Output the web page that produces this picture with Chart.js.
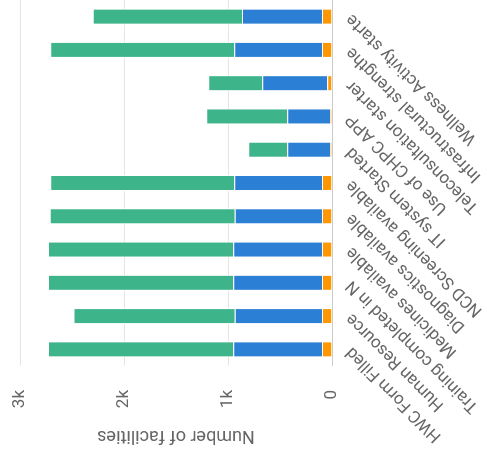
<!DOCTYPE html>
<html>
<head>
<meta charset="utf-8">
<script src="https://cdn.jsdelivr.net/npm/chart.js@4.4.0/dist/chart.umd.min.js"></script>
<style>
  html, body { margin: 0; padding: 0; background: #fff; }
  #view { position: relative; width: 487px; height: 452px; overflow: hidden; }
  /* the chart is drawn upright, then turned a quarter to the left */
  #turn { position: absolute; left: 0; top: 0; width: 452px; height: 487px;
          transform-origin: 0 0; transform: translate(0, 452px) rotate(-90deg); }
</style>
</head>
<body>
<div id="view">
  <div id="turn"><canvas id="facilitiesChart" width="452" height="487"></canvas></div>
</div>
<script>
const categories = [
  "HWC Form Filled",
  "Human Resource",
  "Training completed in N",
  "Medicines available",
  "Diagnostics available",
  "NCD Screening available",
  "IT system Started",
  "Use of CHPC APP",
  "Teleconsultation starter",
  "Infrastructural strengthe",
  "Wellness Activity starte",
];
const orangeValues = [95, 95, 95, 95, 95, 95, 20, 20, 45, 95, 95];
const blueValues = [855, 840, 855, 855, 840, 845, 410, 410, 625, 845, 770];
const greenValues = [1780, 1550, 1780, 1780, 1780, 1770, 375, 780, 520, 1770, 1435];
const yTicks = [0, 1000, 2000, 3000];

const textColor = "#666";
const fontFamily = "Roboto, 'Liberation Sans', sans-serif";

// stacked column chart, one dataset per colour
function facilitiesDraw() {
  const ctx = document.querySelector("#facilitiesChart");
  const barStyle = { borderColor: "#fff", borderWidth: 1, barPercentage: 0.6, categoryPercentage: 0.8 };

  new Chart(ctx, {
    type: "bar",
    data: {
      labels: categories,
      datasets: [
        { label: "Pending", data: orangeValues, backgroundColor: "#ff9800", ...barStyle },
        { label: "In progress", data: blueValues, backgroundColor: "#2b7fd4", ...barStyle },
        { label: "Completed", data: greenValues, backgroundColor: "#3db489", ...barStyle },
      ],
    },
    options: {
      responsive: false,
      animation: false,
      layout: { padding: { top: 20, left: 0, right: 0, bottom: 0 } },
      plugins: { legend: { display: false }, tooltip: { enabled: false } },
      scales: {
        x: {
          stacked: true,
          grid: { display: false },
          border: { color: "#ccc" },
          ticks: {
            color: textColor,
            font: { family: fontFamily, size: 17 },
            minRotation: 45,
            maxRotation: 45,
            autoSkip: false,
            padding: 2,
          },
          afterFit: (scale) => { scale.height = 155; },
        },
        y: {
          stacked: true,
          min: 0,
          max: 3000,
          afterBuildTicks: (scale) => { scale.ticks = yTicks.map((v) => ({ value: v })); },
          // tick marks kept invisible, they only make the gap before the labels
          grid: { color: "#e5e5e5", tickColor: "rgba(0,0,0,0)", tickLength: 21 },
          border: { display: false },
          ticks: {
            color: textColor,
            font: { family: fontFamily, size: 17 },
            padding: 3,
            callback: (v) => (v === 0 ? "0" : v / 1000 + "k"),
          },
          title: {
            display: true,
            text: "Number of facilities",
            color: textColor,
            font: { family: fontFamily, size: 18 },
            padding: { top: 6, bottom: 4 },
          },
          afterFit: (scale) => { scale.width = 86; },
        },
      },
    },
  });
}

facilitiesDraw();
</script>
</body>
</html>
